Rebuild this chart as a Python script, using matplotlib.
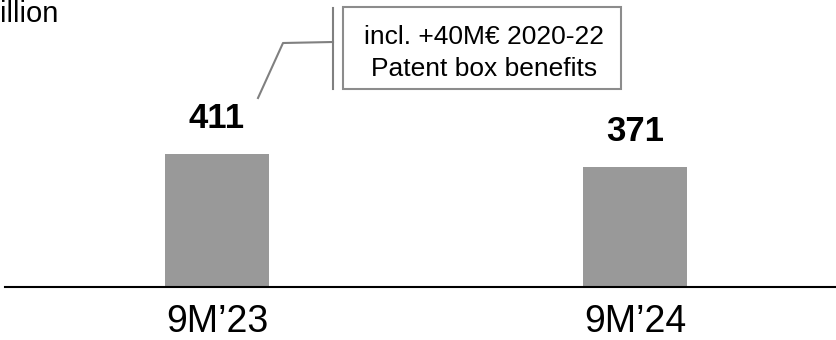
import matplotlib.pyplot as plt
from matplotlib.patches import Rectangle
from matplotlib.lines import Line2D
from matplotlib.transforms import blended_transform_factory

plt.rcParams['font.family'] = ['Liberation Sans', 'DejaVu Sans']

categories = ["9M\u201923", "9M\u201924"]
values = [411, 371]
unit_label = "illion"
note_lines = ["incl. +40M\u20ac 2020-22", "Patent box benefits"]

W, H = 836, 340
fig = plt.figure(figsize=(W / 100, H / 100), dpi=100)

base_px = 287  # baseline, pixels from top
ax = fig.add_axes([0, (H - base_px) / H, 1, base_px / H])
ax.axis('off')

x = list(range(len(categories)))
ax.bar(x, values, width=0.249, color='#999999')
ax.set_xlim(-0.519, 1.481)
ax.set_ylim(0, 887)

# baseline
ax.axhline(0, xmin=5 / W, xmax=1, color='black', lw=1.5, clip_on=False)

for i, v in zip(x, values):
    ax.annotate(str(v), xy=(i, v), xytext=(0, 18.5), textcoords='offset points',
                ha='center', va='baseline', fontsize=25, fontweight='bold')

cat_tr = blended_transform_factory(ax.transData, fig.transFigure)
for i, c in zip(x, categories):
    ax.text(i, (H - 332) / H, c, transform=cat_tr, ha='center', va='baseline',
            fontsize=27)


def fx(px):
    return px / W


def fy(py):
    return (H - py) / H


fig.text(fx(0), fy(22), unit_label, ha='left', va='baseline', fontsize=21)

# callout box with leader line
fig.patches.append(Rectangle((fx(343), fy(89)), fx(621) - fx(343), fy(7) - fy(89),
                             transform=fig.transFigure, fill=False,
                             edgecolor='#8c8c8c', lw=1.5))
fig.lines.append(Line2D([fx(333), fx(333)], [fy(8), fy(89)],
                        transform=fig.transFigure, color='#808080', lw=1.5))
fig.lines.append(Line2D([fx(258), fx(283), fx(333)], [fy(98), fy(43), fy(42)],
                        transform=fig.transFigure, color='#808080', lw=1.5))
fig.text(fx(484), fy(44), note_lines[0], ha='center', va='baseline', fontsize=19)
fig.text(fx(484), fy(76), note_lines[1], ha='center', va='baseline', fontsize=19)

fig.savefig('out.png', dpi=100)
